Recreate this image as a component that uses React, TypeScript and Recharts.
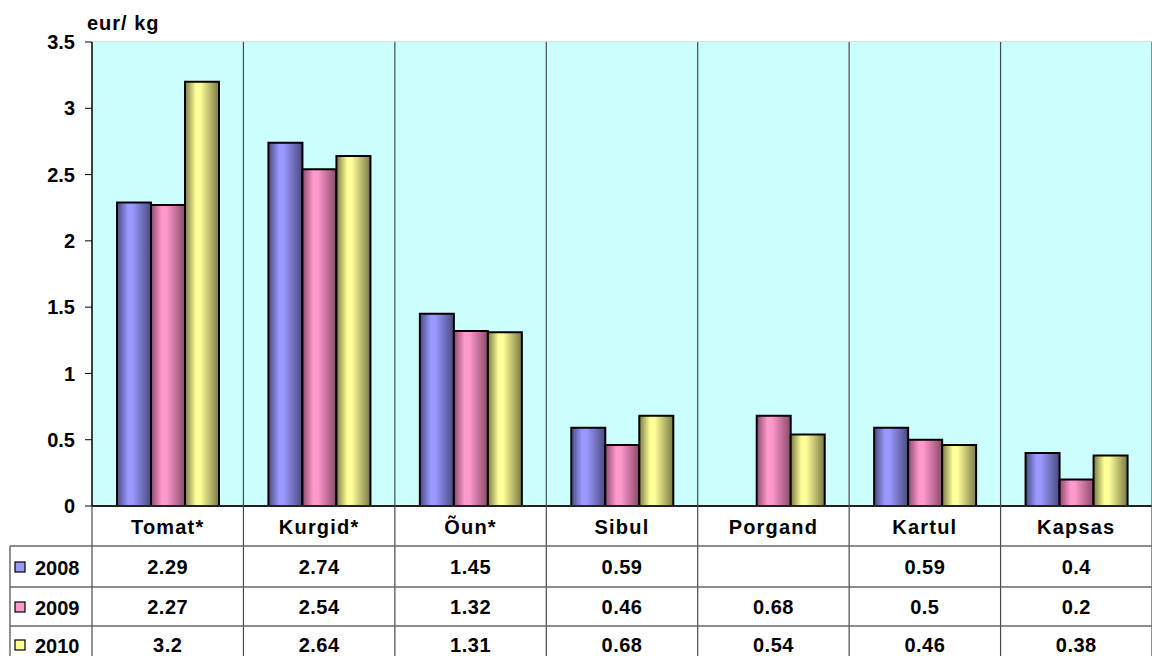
import React from "react";
import { BarChart, Bar, XAxis, YAxis, CartesianGrid } from "recharts";

const categories = ["Tomat*", "Kurgid*", "Õun*", "Sibul", "Porgand", "Kartul", "Kapsas"];
const years = ["2008", "2009", "2010"];
const values2008 = [2.29, 2.74, 1.45, 0.59, null, 0.59, 0.4];
const values2009 = [2.27, 2.54, 1.32, 0.46, 0.68, 0.5, 0.2];
const values2010 = [3.2, 2.64, 1.31, 0.68, 0.54, 0.46, 0.38];
const yTicks = [0, 0.5, 1, 1.5, 2, 2.5, 3, 3.5];

const seriesColors = ["#9999ff", "#ff99cc", "#ffff99"];
const seriesDark = ["#4a4a80", "#8a4a6a", "#7a7a45"];

const data = categories.map((c, i) => ({
  name: c,
  y2008: values2008[i],
  y2009: values2009[i],
  y2010: values2010[i],
}));
const seriesValues = [values2008, values2009, values2010];

const W = 1152;
const H = 656;
const PLOT_LEFT = 92;
const PLOT_TOP = 42;
const PLOT_BOTTOM = 506;
const BAND = (W - PLOT_LEFT) / categories.length;
const ROW_LINES = [546, 587, 626];
const ROW_CENTERS = [567, 607, 645];
const FONT = "Arial, 'Liberation Sans', sans-serif";
const LINE = "#4a4a4a";
const ROW_LINE = "#666";

const TableTick = (props: any) => {
  const { x, payload } = props;
  const i = payload.index;
  const left = x - BAND / 2;
  const right = x + BAND / 2;
  return (
    <g>
      <line x1={right} x2={right} y1={PLOT_TOP} y2={H} stroke={LINE} strokeWidth={1.2} />
      <text x={x} y={527} textAnchor="middle" dominantBaseline="central"
        fontFamily={FONT} fontWeight="bold" fontSize={20} letterSpacing={1.2} fill="#000">
        {payload.value}
      </text>
      {ROW_LINES.map((ly) => (
        <line key={ly} x1={left} x2={right} y1={ly} y2={ly} stroke={ROW_LINE} strokeWidth={1.5} />
      ))}
      {seriesValues.map((vals, r) =>
        vals[i] == null ? null : (
          <text key={r} x={x} y={ROW_CENTERS[r]} textAnchor="middle" dominantBaseline="central"
            fontFamily={FONT} fontWeight="bold" fontSize={20} letterSpacing={0.5} fill="#000">
            {vals[i]}
          </text>
        )
      )}
      {i === 0 && (
        <g>
          <line x1={left} x2={left} y1={PLOT_BOTTOM} y2={H} stroke={LINE} strokeWidth={1.2} />
          <line x1={10} x2={10} y1={ROW_LINES[0]} y2={H} stroke={LINE} strokeWidth={1.2} />
          {ROW_LINES.map((ly) => (
            <line key={ly} x1={10} x2={left} y1={ly} y2={ly} stroke={ROW_LINE} strokeWidth={1.5} />
          ))}
          {years.map((yr, r) => (
            <g key={yr}>
              <rect x={15} y={ROW_CENTERS[r] - 5} width={10} height={10}
                fill={seriesColors[r]} stroke="#000" strokeWidth={1.2} />
              <text x={35} y={ROW_CENTERS[r] + 1} dominantBaseline="central"
                fontFamily={FONT} fontWeight="bold" fontSize={20} fill="#000">
                {yr}
              </text>
            </g>
          ))}
        </g>
      )}
    </g>
  );
};

export default function App() {
  return (
    <div style={{ position: "absolute", left: 0, top: 0, width: W, height: H, background: "#fff" }}>
      <div style={{ position: "absolute", left: 87, top: 12, fontFamily: FONT, fontWeight: "bold",
        fontSize: 20, letterSpacing: 1, color: "#000", lineHeight: "22px" }}>
        eur/ kg
      </div>
      <BarChart width={W} height={H} data={data} barGap={0} barSize={34}
        margin={{ top: PLOT_TOP, right: 0, left: 0, bottom: 0 }}>
        <defs>
          {seriesColors.map((c, k) => (
            <linearGradient key={k} id={`grad${k}`} x1="0" y1="0" x2="1" y2="0">
              <stop offset="0%" stopColor={seriesDark[k]} />
              <stop offset="32%" stopColor={c} />
              <stop offset="45%" stopColor={c} />
              <stop offset="100%" stopColor={seriesDark[k]} />
            </linearGradient>
          ))}
        </defs>
        <rect x={PLOT_LEFT} y={PLOT_TOP} width={W - PLOT_LEFT} height={PLOT_BOTTOM - PLOT_TOP} fill="#ccffff" />
        <CartesianGrid stroke="#b8b8b8" strokeWidth={1.2} vertical={false} />
        <XAxis dataKey="name" height={H - PLOT_BOTTOM} interval={0} tickLine={false}
          axisLine={{ stroke: "#222", strokeWidth: 2 }} tick={<TableTick />} />
        <YAxis width={PLOT_LEFT} domain={[0, 3.5]} ticks={yTicks} tickSize={7} tickMargin={10}
          axisLine={{ stroke: "#000", strokeWidth: 1.5 }} tickLine={{ stroke: "#000" }}
          tick={{ fontFamily: FONT, fontWeight: "bold", fontSize: 20, fill: "#000" }} />
        <Bar dataKey="y2008" fill="url(#grad0)" stroke="#000" strokeWidth={2} isAnimationActive={false} />
        <Bar dataKey="y2009" fill="url(#grad1)" stroke="#000" strokeWidth={2} isAnimationActive={false} />
        <Bar dataKey="y2010" fill="url(#grad2)" stroke="#000" strokeWidth={2} isAnimationActive={false} />
      </BarChart>
    </div>
  );
}
